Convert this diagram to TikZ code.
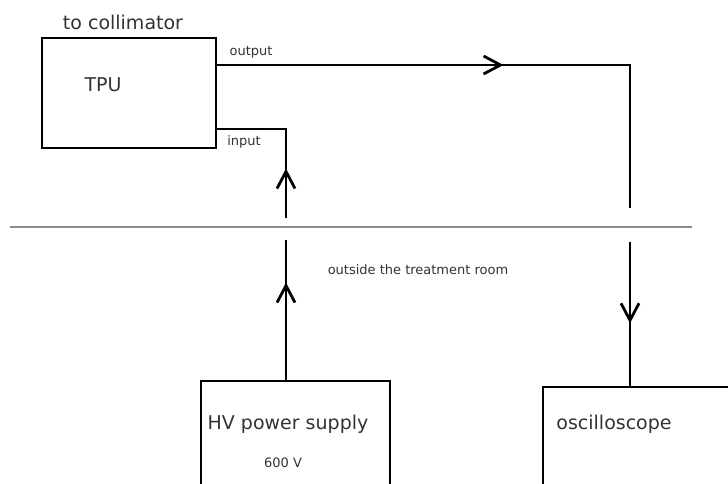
\documentclass[tikz,border=0pt]{standalone}
\usepackage{fontspec}
\setmainfont{DejaVu Sans}
\usetikzlibrary{arrows.meta,decorations.markings}

\tikzset{
  unit/.style={draw,line width=2.8pt,inner sep=0pt},
  wire/.style={line width=2.8pt},
  wall/.style={draw=black!45,line width=2.2pt},
  big/.style={text=black!80,font=\fontsize{19}{22}\selectfont},
  small/.style={text=black!80,font=\fontsize{13}{15}\selectfont},
  midarrow/.style={postaction={decorate},decoration={markings,
    mark=at position #1 with {\arrow[line width=2.8pt]{Straight Barb[length=17pt,width=18pt]}}}}
}

\begin{document}
\begin{tikzpicture}[x=1pt,y=-1pt]
 \useasboundingbox[fill=white] (0,0) rectangle (728,484);
 % boxes
 \node[unit,minimum width=174pt,minimum height=110pt] (tpu) at (129,93) {};
 \node[unit,minimum width=189pt,minimum height=140pt] (hv) at (295.5,451) {};
 \node[unit,minimum width=237pt,minimum height=140pt] (osc) at (661.5,457) {};
 % texts
 \node[big] (coll) at (123,22) {to collimator};
 \node[big] (tputxt) at (103,85) {TPU};
 \node[small] (outtxt) at (251,52) {output};
 \node[small] (intxt) at (244,142) {input};
 \node[small] (room) at (418,270) {outside the treatment room};
 \node[big] (hvtxt) at (288,424) {HV power supply};
 \node[small] (volt) at (283,463) {600 V};
 \node[big] (osctxt) at (614,424) {oscilloscope};
 % wall of the treatment room
 \draw[wall] (10,227) -- (692,227);
 % cables
 \coordinate (outcorner) at (630,65);
 \coordinate (outgap) at (630,208);
 \coordinate (incorner) at (286,129);
 \coordinate (ingap) at (286,218);
 \coordinate (hvgap) at (286,240);
 \coordinate (oscgap) at (630,242);
 \draw[wire,midarrow=0.515] (tpu.east |- outcorner) -- (outcorner) -- (outgap);
 \draw[wire,midarrow=0.314] (ingap) -- (incorner) -- (tpu.east |- incorner);
 \draw[wire,midarrow=0.695] (hvgap |- hv.north) -- (hvgap);
 \draw[wire,midarrow=0.566] (oscgap) -- (oscgap |- osc.north);
\end{tikzpicture}
\end{document}
